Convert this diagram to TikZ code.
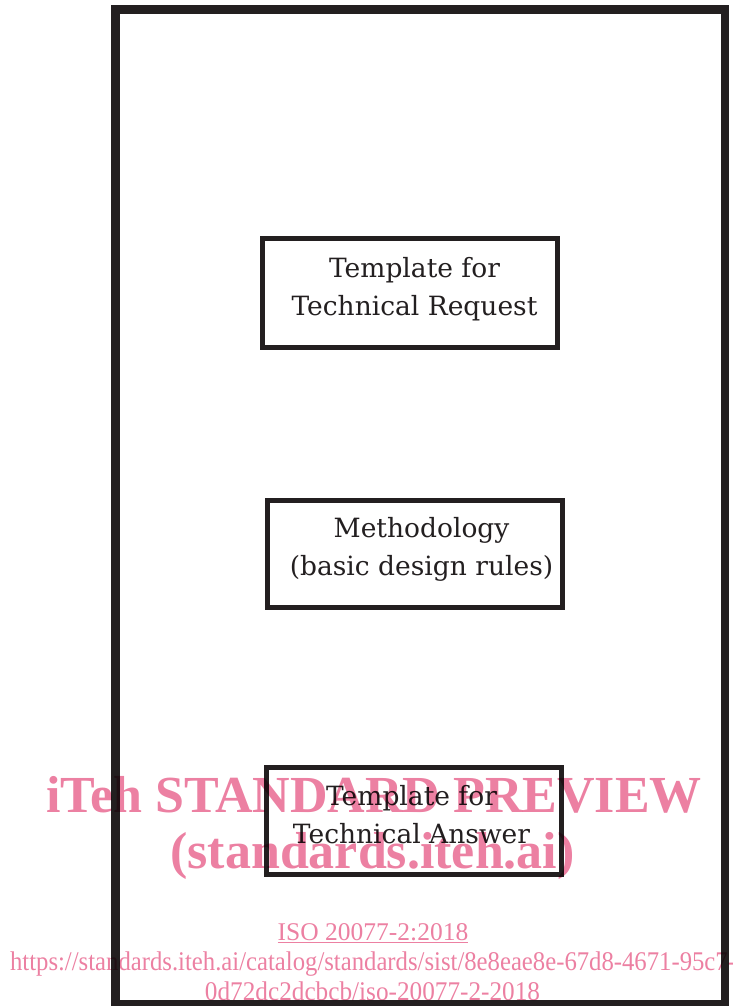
\documentclass[tikz,border=0pt]{standalone}
\usepackage{fontspec}
\setmainfont{Liberation Serif}
\newfontfamily\boxfont{DejaVu Serif}
\definecolor{ink}{RGB}{35,31,32}
\definecolor{wm}{RGB}{236,128,162}
\begin{document}
\begin{tikzpicture}[x=1pt,y=-1pt,
  frame/.style={draw=ink,line width=8.5pt},
  boxed/.style={draw=ink,line width=5pt},
  boxtext/.style={text=ink,font=\boxfont\fontsize{26.5}{38}\selectfont,align=center},
  wmbig/.style={text=wm,font=\bfseries\fontsize{52}{60}\selectfont,anchor=base,inner sep=0pt},
  wmsmall/.style={text=wm,font=\fontsize{27}{30}\selectfont,anchor=base,inner sep=0pt}]
\useasboundingbox (0,0) rectangle (733,1006);
\draw[frame] (115.5,9.5) rectangle (725,1004);
\draw[boxed] (262.5,238.5) rectangle (557.5,347.5);
\draw[boxed] (267.5,500.5) rectangle (562,607.5);
\draw[boxed] (266.5,767) rectangle (561,874);
\node[boxtext] (req) at (414.5,289) {Template for\\Technical Request};
\node[boxtext] (meth) at (421.5,549) {Methodology\\(basic design rules)};
\node[boxtext] (ans) at (411.5,815) {Template for\\Technical Answer};
\begin{scope}[blend mode=multiply]
\node[wmbig] (wm1) at (374,812) {iTeh STANDARD PREVIEW};
\node[wmbig] (wm2) at (372.5,868) {(standards.iteh.ai)};
\node[wmsmall,font=\fontsize{25.5}{30}\selectfont] (iso) at (373,940) {\underline{ISO 20077-2:2018}};
\node[wmsmall,xscale=0.915] (url1) at (373,970) {https://standards.iteh.ai/catalog/standards/sist/8e8eae8e-67d8-4671-95c7-};
\node[wmsmall,xscale=0.935] (url2) at (372.5,1000) {0d72dc2dcbcb/iso-20077-2-2018};
\end{scope}
\end{tikzpicture}
\end{document}
